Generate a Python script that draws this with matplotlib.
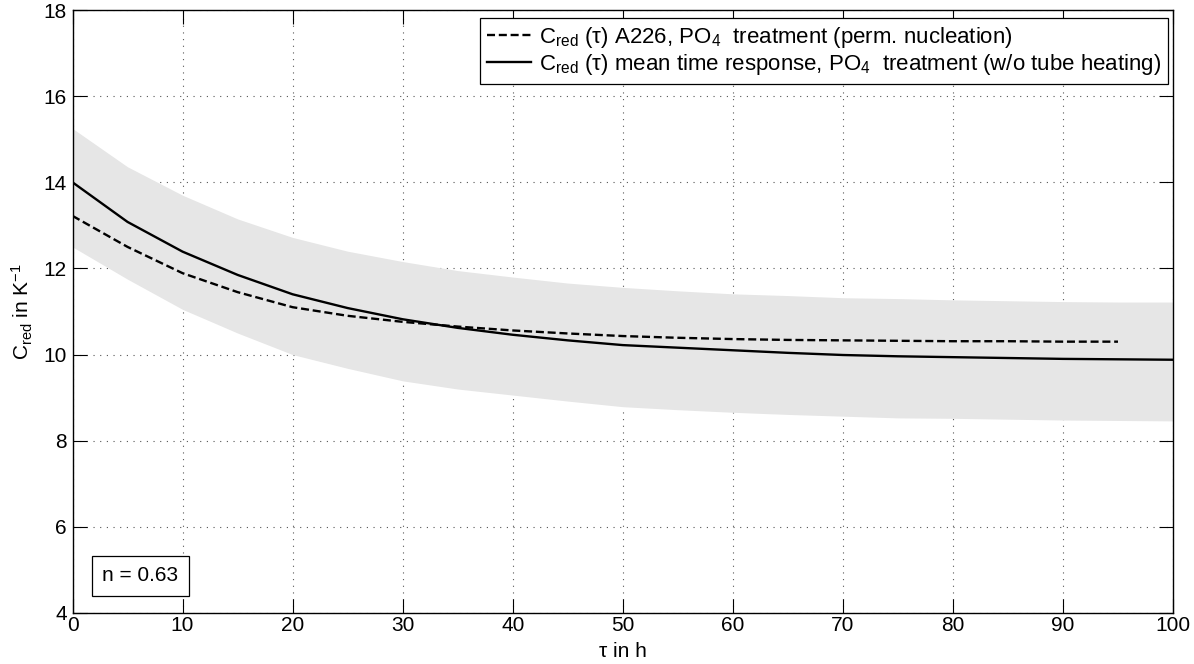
import matplotlib
matplotlib.use("Agg")
import matplotlib.pyplot as plt
import numpy as np

plt.rcParams['font.family'] = ['Liberation Sans', 'DejaVu Sans']
plt.rcParams['mathtext.fontset'] = 'custom'
plt.rcParams['mathtext.rm'] = 'Liberation Sans'
plt.rcParams['mathtext.it'] = 'Liberation Sans:italic'
plt.rcParams['mathtext.bf'] = 'Liberation Sans:bold'

# ---- data ----
tau = [0, 5, 10, 15, 20, 25, 30, 35, 40, 45, 50, 55, 60, 65, 70, 75, 80, 85, 90, 95, 100]
c_mean = [14.0, 13.08, 12.39, 11.85, 11.40, 11.08, 10.82, 10.62, 10.46, 10.33, 10.22,
          10.16, 10.10, 10.04, 9.99, 9.96, 9.94, 9.92, 9.90, 9.89, 9.88]
band_upper = [15.25, 14.36, 13.70, 13.15, 12.72, 12.40, 12.16, 11.95, 11.80, 11.66, 11.56,
              11.48, 11.41, 11.37, 11.32, 11.30, 11.27, 11.25, 11.23, 11.22, 11.22]
band_lower = [12.50, 11.75, 11.05, 10.50, 10.00, 9.68, 9.39, 9.20, 9.06, 8.92, 8.79,
              8.72, 8.66, 8.61, 8.57, 8.53, 8.52, 8.50, 8.48, 8.47, 8.46]
tau_a226 = [0, 5, 10, 15, 20, 25, 30, 35, 40, 45, 50, 55, 60, 65, 70, 75, 80, 85, 90, 95]
c_a226 = [13.22, 12.50, 11.89, 11.45, 11.10, 10.90, 10.76, 10.65, 10.56, 10.49, 10.43,
          10.39, 10.36, 10.34, 10.33, 10.32, 10.31, 10.31, 10.30, 10.30]
xticks = [0, 10, 20, 30, 40, 50, 60, 70, 80, 90, 100]
yticks = [4, 6, 8, 10, 12, 14, 16, 18]
n_value = 0.63

FS = 15

fig = plt.figure(figsize=(11.94, 6.64), dpi=100)
ax = fig.add_axes([72.5/1194, 51/664, (1173-72.5)/1194, (613-10)/664])

ax.fill_between(tau, band_lower, band_upper, color='#e6e6e6', linewidth=0, zorder=1)
ax.plot(tau_a226, c_a226, color='black', lw=1.7, linestyle=(0, (3.4, 1.6)), zorder=3,
        label='C$_{\\rm red}$ (τ) A226, PO$_4$  treatment (perm. nucleation)')
ax.plot(tau, c_mean, color='black', lw=1.7, zorder=3,
        label='C$_{\\rm red}$ (τ) mean time response, PO$_4$  treatment (w/o tube heating)')

ax.set_xlim(0, 100)
ax.set_ylim(4, 18)
ax.set_xticks(xticks)
ax.set_yticks(yticks)
ax.tick_params(direction='in', length=10, width=0.8, top=True, right=True,
               labelsize=FS, pad=2)
ax.tick_params(axis='y', pad=4)
ax.grid(True, color='#555555', linestyle=(0, (1, 5)), linewidth=0.8, zorder=0)
ax.set_axisbelow(True)
for s in ax.spines.values():
    s.set_linewidth(1.0)

ax.set_xlabel('τ in h', fontsize=FS, labelpad=5)
ax.set_ylabel('C$_{\\rm red}$ in K$^{-1}$', fontsize=FS, labelpad=6)

leg = ax.legend(loc='upper right', bbox_to_anchor=(0.9955, 0.987), fontsize=16,
                frameon=True, fancybox=False, framealpha=1, edgecolor='black',
                handlelength=2.0, handletextpad=0.35, labelspacing=0.12,
                borderpad=0.3, borderaxespad=0)
leg.get_frame().set_linewidth(0.9)

ax.text(9.6, 4.86, f'n = {n_value}', fontsize=FS, ha='right', va='center', zorder=5,
        bbox=dict(boxstyle='square,pad=0.5', facecolor='white', edgecolor='black', linewidth=0.9))

fig.savefig('out.png', dpi=100)
